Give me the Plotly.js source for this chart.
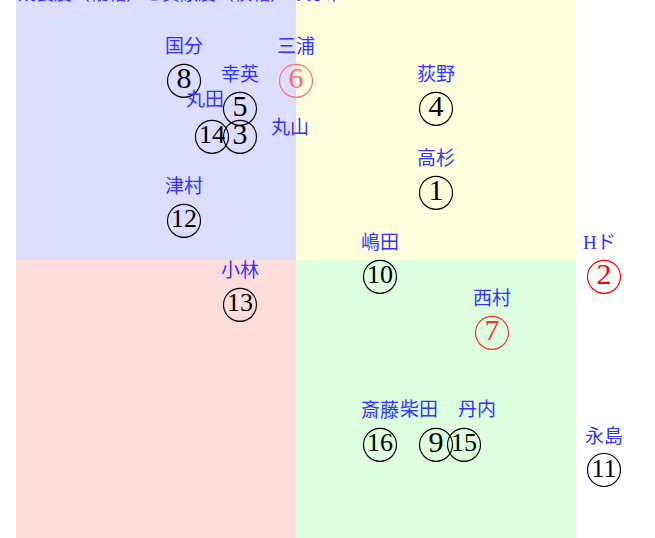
<!DOCTYPE html>
<html>
<head>
<meta charset="utf-8">
<script src="https://cdn.plot.ly/plotly-3.0.1.min.js"></script>
<style>
	html, body { margin: 0; padding: 0; background: #fff; }
	#chart { width: 655px; height: 538px; }
</style>
</head>
<body>
<div id="chart"></div>
<script>
const numbers = ['1', '2', '3', '4', '5', '6', '7', '8', '9', '10', '11', '12', '13', '14', '15', '16']
const names = [
	'高杉', 'Hド', '丸山', '荻野', '幸英', '三浦', '西村', '国分',
	'柴田', '嶋田', '永島', '津村', '小林', '丸田', '丹内', '斎藤',
]
const xValues = [2.5, 5.5, -1, 2.5, -1, 0, 3.5, -2, 2.5, 1.5, 5.5, -2, -1, -1.5, 3, 1.5]
const yValues = [1.2, -0.3, 2.2, 2.7, 2.7, 3.2, -1.3, 3.2, -3.3, -0.3, -3.75, 0.7, -0.8, 2.2, -3.3, -3.3]
const titleText = '成長度（縦軸）と貢献度（横軸）の分布'

// a few name labels are nudged so they do not collide
const labelNudge = {
	'Hド': [-5, 0],
	'丸山': [50, -25],
	'柴田': [-17, 1],
	'丹内': [13, 1],
	'丸田': [-7, 3],
}

const markColors = numbers.map(function (n) {
	if (n === '2') return '#ff0000'
	if (n === '7') return '#ee3333'
	if (n === '6') return '#ff6f6f'
	return '#000000'
})

function quadrant(x0, x1, y0, y1, color) {
	return {
		type: 'rect',
		xref: 'x',
		yref: 'y',
		x0: x0,
		x1: x1,
		y0: y0,
		y1: y1,
		fillcolor: color,
		line: { width: 0 },
		layer: 'below',
	}
}

function createChart() {
	const circles = {
		x: xValues,
		y: yValues,
		type: 'scatter',
		mode: 'markers+text',
		text: numbers,
		textposition: 'middle center',
		textfont: {
			family: 'Liberation Serif, DejaVu Serif, serif',
			size: numbers.map(n => (n.length > 1 ? 26 : 30)),
			color: markColors,
		},
		marker: {
			symbol: 'circle-open',
			size: 33,
			color: markColors,
			line: { width: 1.2, color: markColors },
		},
		cliponaxis: false,
		hoverinfo: 'skip',
		showlegend: false,
	}

	const labels = names.map(function (name, i) {
		const nudge = labelNudge[name] || [0, 0]
		return {
			x: xValues[i],
			y: yValues[i],
			xref: 'x',
			yref: 'y',
			text: name,
			showarrow: false,
			xshift: nudge[0],
			yshift: 34 + nudge[1],
			font: {
				family: 'Liberation Serif, Noto Sans CJK JP, sans-serif',
				size: 19,
				color: '#3333ff',
			},
		}
	})

	labels.push({
		xref: 'paper',
		yref: 'paper',
		x: 16 / 655,
		y: 1 - 7 / 538,
		xanchor: 'left',
		yanchor: 'bottom',
		text: titleText,
		showarrow: false,
		font: {
			family: 'Noto Sans CJK JP, sans-serif',
			size: 18,
			color: '#3333ff',
		},
	})

	const layout = {
		width: 655,
		height: 538,
		margin: { l: 0, r: 0, t: 0, b: 0, pad: 0 },
		paper_bgcolor: '#ffffff',
		plot_bgcolor: '#ffffff',
		xaxis: {
			range: [-296 / 56, 359 / 56],
			visible: false,
			fixedrange: true,
		},
		yaxis: {
			range: [-278 / 56, 260 / 56],
			visible: false,
			fixedrange: true,
		},
		shapes: [
			quadrant(-5, 0, 0, 5, 'rgba(0, 0, 255, 0.135)'),
			quadrant(0, 5, 0, 5, 'rgba(255, 255, 0, 0.135)'),
			quadrant(-5, 0, -5, 0, 'rgba(255, 0, 0, 0.135)'),
			quadrant(0, 5, -5, 0, 'rgba(0, 255, 0, 0.135)'),
		],
		annotations: labels,
		showlegend: false,
	}

	Plotly.newPlot('chart', [circles], layout, { displayModeBar: false, staticPlot: true })
}

window.onload = createChart
</script>
</body>
</html>
